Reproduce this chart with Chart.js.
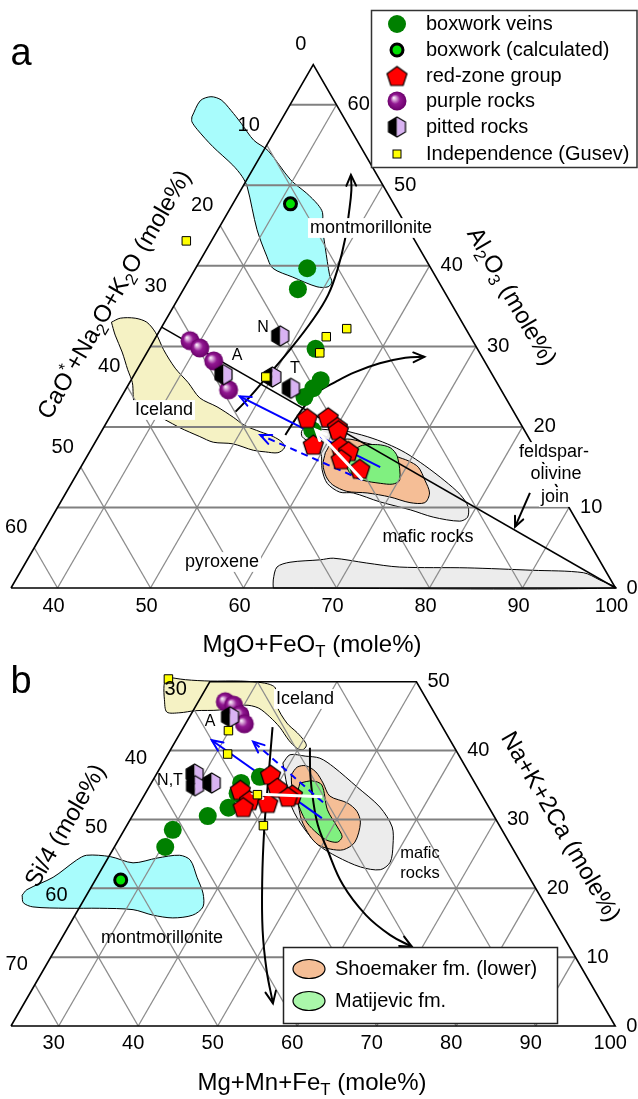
<!DOCTYPE html>
<html lang="en">
<head>
<meta charset="UTF-8" />
<title>Ternary diagrams a and b</title>
<script src="https://cdn.jsdelivr.net/npm/chart.js"></script>
<style>
  html, body { margin: 0; padding: 0; background: #fff; }
  canvas { display: block; }
</style>
</head>
<body>
<canvas id="chartA" width="638" height="660"></canvas>
<canvas id="chartB" width="638" height="439"></canvas>
<script>
// Panel a: points are [MgO+FeOT, Al2O3] in mole%, CaO*+Na2O+K2O is the remainder
const aBoxworkVeins = [[47.0,39.7],[47.3,37.1],[52.9,29.7],[55.4,25.8],[55.1,24.8],[54.7,23.7],[57.6,19.6]];
const aBoxworkCalc = [[41.2,47.7]];
const aRedZone = [[56.3,21.1],[58.5,21.2],[60.1,20.0],[60.4,19.6],[58.6,17.8],[61.6,17.6],[62.8,17.0],[62.5,16.0],[65.1,14.8]];
const aPurple = [[38.9,30.7],[40.4,29.8],[42.7,28.2],[46.1,24.6]];
const aPitted = [[44.6,26.5],[48.3,31.3],[50.0,26.2],[52.7,24.8]];
const aGusev = [[32.3,43.1],[53.3,31.2],[55.0,32.2],[53.6,29.2],[49.3,26.2]];

const aMontmorillonite = [[25.2,58.5],[25.1,60.5],[26.0,61.0],[27.3,60.6],[29.0,59.3],[30.9,57.7],[33.3,55.6],[35.5,54.3],[39.7,50.7],[42.3,49.0],[44.2,47.6],[45.2,46.6],[46.1,44.8],[47.7,42.2],[49.8,38.9],[50.5,38.0],[50.4,37.4],[49.2,37.4],[46.0,38.6],[43.3,39.7],[41.9,41.2],[39.2,44.5],[35.5,49.8],[34.3,51.1],[32.6,52.5],[29.3,54.8],[26.6,56.9],[25.5,57.9]];
const aIceland = [[29.3,33.0],[30.0,33.5],[31.6,33.5],[33.1,33.0],[34.7,31.7],[36.6,29.6],[39.0,27.3],[41.3,25.5],[43.5,23.6],[45.9,22.5],[48.3,21.2],[50.0,20.2],[52.1,19.4],[53.8,18.8],[55.1,18.1],[55.7,17.4],[55.3,16.8],[53.9,16.9],[52.5,17.1],[49.9,17.9],[47.7,18.1],[45.9,18.8],[43.2,19.9],[41.1,20.9],[39.1,21.7],[37.0,22.7],[35.3,25.5],[34.0,27.1],[32.3,29.3],[30.5,31.4]];
const aMafic = [[60.9,19.6],[63.9,18.8],[66.5,17.9],[69.0,16.8],[71.9,15.2],[75.0,13.3],[77.5,11.6],[79.1,10.1],[79.7,8.8],[79.1,8.3],[76.0,8.8],[73.1,9.7],[69.3,10.7],[65.9,11.8],[64.4,11.9],[62.5,13.0],[61.1,14.7],[59.9,16.8],[58.2,18.0],[56.9,18.8],[56.5,19.6],[57.2,20.0],[58.7,19.7]];
const aShoemaker = [[60.4,16.8],[60.5,18.0],[61.9,18.5],[63.8,18.1],[65.9,17.5],[68.4,16.3],[69.8,15.8],[71.3,15.0],[72.8,13.4],[74.1,11.8],[74.2,10.6],[72.6,10.6],[70.1,11.3],[67.4,11.8],[65.1,12.0],[63.2,12.8],[62.0,13.8],[60.9,15.3]];
const aMatijevic = [[63.6,15.0],[63.6,17.5],[65.5,17.8],[67.1,17.4],[68.4,16.3],[70.1,13.4],[69.6,12.9],[68.2,13.0],[66.1,13.4],[64.3,14.3]];
const aPyroxene = [[63.2,0],[62.7,1.0],[62.3,2.6],[63.4,3.2],[66.5,3.5],[67.8,3.7],[71.7,3.1],[75.5,2.6],[82.8,2.5],[90.0,2.2],[95.6,1.9],[97.8,1.0],[100,0]];

const aJoin = [[35,32.4],[100,0]];
const aCurveUp = [[48.2,21.9],[48.8,23.7],[49.4,26.2],[50.2,29.6],[50.8,33.3],[50.9,36.4],[50.3,39.7],[49.3,43.2],[48.0,46.7],[46.9,49.4],[45.9,51.3]];
const aCurveRight = [[55.0,19.0],[55.1,20.9],[55.3,22.7],[55.8,24.3],[57.1,25.6],[58.6,26.8],[60.7,27.9],[63.1,28.6],[65.1,28.7]];
const aBlueSolid = [[67.2,15.0],[47.7,23.8]];
const aBlueDashed = [[66.1,13.4],[52.3,19.0]];
const aWhiteArrow = [[66.1,13.4],[58.0,19.6]];
const aJoinPointer = [[84.9,11.8],[85.4,7.6]];

const aMin = 35;
const aBottomTicks = [40,50,60,70,80,90,100];
const aRightTicks = [0,10,20,30,40,50,60];
const aLeftTicks = [0,10,20,30,40,50,60];
const aGridAl = [10,20,30,40,50,60];
const aGridMg = [40,50,60,70,80,90];
const aGridCa = [10,20,30,40,50,60];

// Panel b: points are [Mg+Mn+FeT, Na+K+2Ca] in mole%, Si/4 is the remainder
const bBoxworkVeins = [[30.4,26.0],[30.1,28.5],[33.5,30.5],[35.5,31.7],[35.6,33.8],[35.3,35.3],[37.2,36.2]];
const bBoxworkCalc = [[27.2,21.2]];
const bRedZone = [[35.7,34.3],[38.4,36.5],[40.2,34.6],[37.6,32.8],[37.3,31.8],[40.1,32.4],[42.6,33.6],[42.2,33.3]];
const bPurple = [[27.4,47.1],[28.7,46.6],[30.2,45.2],[31.4,43.9]];
const bPitted = [[29.1,44.9],[28.8,36.6],[29.7,34.9],[31.6,35.3]];
const bGusev = [[18.6,50.4],[29.9,42.9],[31.5,39.5],[38.2,33.6],[41.2,29.1]];

const bIceland = [[18.2,50.7],[20.8,50.3],[24.0,50.1],[27.8,50.1],[31.0,49.8],[32.7,49.1],[34.2,46.5],[36.7,44.0],[38.7,42.6],[40.2,41.4],[40.8,40.7],[40.6,40.1],[39.7,40.4],[38.2,41.5],[36.1,43.4],[34.1,44.9],[32.0,46.2],[30.1,46.6],[27.3,45.9],[24.3,45.8],[22.5,45.5],[20.8,45.6],[19.6,47.4],[18.5,49.5]];
const bMontmorillonite = [[15.9,19.0],[16.1,19.8],[18.5,21.6],[20.2,24.1],[21.1,24.8],[24.2,24.6],[27.5,23.7],[30.2,24.4],[32.8,24.8],[34.5,24.1],[36.6,21.6],[38.5,19.3],[39.5,17.3],[38.8,16.1],[36.5,15.7],[33.8,16.1],[30.9,16.9],[26.6,17.1],[22.5,17.1],[18.1,17.3],[16.6,17.9]];
const bMafic = [[39.1,38.2],[39.4,39.4],[41.4,39.2],[43.4,38.9],[45.8,37.6],[50.2,34.7],[54.5,31.8],[57.5,28.9],[58.9,26.3],[59.8,23.8],[59.1,22.7],[56.4,23.1],[52.7,24.6],[49.5,26.3],[46.4,28.8],[43.5,31.7],[41.2,35.0]];
const bShoemaker = [[41.0,36.5],[41.2,37.6],[42.2,37.8],[43.9,36.9],[45.6,35.3],[47.4,33.4],[50.1,32.4],[51.9,31.2],[53.2,29.5],[53.9,26.7],[53.0,25.6],[51.3,25.7],[49.5,26.3],[47.8,27.6],[45.6,29.9],[43.6,32.8],[42.0,34.7]];
const bMatijevic = [[42.7,35.3],[44.1,35.6],[45.6,35.0],[48.1,31.4],[50.6,28.9],[51.9,27.5],[51.7,26.7],[50.2,27.0],[48.5,28.0],[46.5,29.5],[44.7,31.4],[43.3,33.3]];

const bCurveLeft = [[35.2,43.4],[38.5,35.7],[41.6,28.5],[45.0,21.2],[48.7,13.9],[52.1,8.1],[55.3,3.3]];
const bCurveRight = [[41.4,40.4],[43.4,36.5],[45.6,32.8],[48.0,29.2],[51.0,25.6],[55.5,20.5],[60.6,16.1],[65.1,13.2],[68.7,11.5]];
const bBlueSolid = [[48.0,30.2],[28.5,41.5]];
const bBlueDashed = [[47.0,32.5],[33.8,41.3]];
const bWhiteArrow = [[46.5,33.3],[37.7,33.7]];

const bMin = 24, bTop = 50;
const bBottomTicks = [30,40,50,60,70,80,90,100];
const bRightTicks = [0,10,20,30,40,50];
const bLeftTicks = [30,40,50,60,70];
const bGridNa = [10,20,30,40];
const bGridMg = [30,40,50,60,70,80,90];
const bGridSi = [10,20,30,40,50,60,70];

const legendA = ['boxwork veins','boxwork (calculated)','red-zone group','purple rocks','pitted rocks','Independence (Gusev)'];
const legendB = ['Shoemaker fm. (lower)','Matijevic fm.'];

// ---------------------------------------------------------------
const FONT = '"Liberation Sans", Arial, Helvetica, sans-serif';
const SQ = Math.sqrt(3) / 2;
const xy = (m, a) => ({ x: m + a / 2, y: a * SQ });
const toXY = list => list.map(p => xy(p[0], p[1]));

const C = {
  cyan: '#a8fcfc', yellow: '#f5f2c4', grey: '#ececec', orange: '#f5be96', green: '#80f080',
  dark: '#008000', calc: '#00e000', lilac: '#d9b3f2', gusev: '#ffff00'
};

function symbolCanvas(w, h, draw) {
  const c = document.createElement('canvas');
  c.width = w; c.height = h;
  const g = c.getContext('2d');
  g.translate(w / 2, h / 2);
  draw(g);
  return c;
}
const pentagon = symbolCanvas(25, 25, g => {
  const r = 10.5;
  g.translate(0, 1);
  g.beginPath();
  for (let i = 0; i < 5; i++) {
    const t = -Math.PI / 2 + i * 2 * Math.PI / 5;
    g.lineTo(r * Math.cos(t), r * Math.sin(t));
  }
  g.closePath();
  g.fillStyle = '#ff0000'; g.fill();
  g.lineWidth = 1.2; g.strokeStyle = '#000'; g.stroke();
});
const hexagon = symbolCanvas(21, 24, g => {
  const hw = 8.5, hh = 10;
  g.beginPath(); g.moveTo(0, -hh); g.lineTo(0, hh); g.lineTo(-hw, hh / 2); g.lineTo(-hw, -hh / 2); g.closePath();
  g.fillStyle = '#000'; g.fill();
  g.beginPath(); g.moveTo(0, -hh); g.lineTo(hw, -hh / 2); g.lineTo(hw, hh / 2); g.lineTo(0, hh); g.closePath();
  g.fillStyle = C.lilac; g.fill();
  g.beginPath(); g.moveTo(0, -hh); g.lineTo(hw, -hh / 2); g.lineTo(hw, hh / 2); g.lineTo(0, hh);
  g.lineTo(-hw, hh / 2); g.lineTo(-hw, -hh / 2); g.closePath();
  g.lineWidth = 1.2; g.strokeStyle = '#000'; g.stroke();
});
const sphere = symbolCanvas(22, 22, g => {
  const r = 9.5;
  const gr = g.createRadialGradient(-r * 0.35, -r * 0.35, 0, 0, 0, r);
  gr.addColorStop(0, '#ffffff');
  gr.addColorStop(0.2, '#d9a6d9');
  gr.addColorStop(0.5, '#921892');
  gr.addColorStop(1, '#6a006a');
  g.beginPath(); g.arc(0, 0, r, 0, Math.PI * 2);
  g.fillStyle = gr; g.fill();
});

function lineDs(list, o) {
  return Object.assign({
    data: toXY(list), showLine: true, pointRadius: 0, borderWidth: 1, borderColor: '#000',
    backgroundColor: 'transparent', fill: false, tension: 0, clip: false
  }, o);
}
function regionDs(list, color, order) {
  const d = toXY(list); d.push(d[0]);
  return { data: d, showLine: true, pointRadius: 0, borderWidth: 1, borderColor: '#000',
    backgroundColor: color, fill: 'shape', tension: 0.3, order, clip: false };
}
function pointDs(list, o) {
  return Object.assign({ data: toXY(list), showLine: false, clip: false }, o);
}
function gridDs(pairs, color, width) {
  return pairs.map(p => lineDs(p, { borderColor: color, borderWidth: width, order: 12 }));
}
function markerSets(s) {
  return [
    pointDs(s.gusev, { pointStyle: 'rect', pointRadius: 6, pointBackgroundColor: C.gusev, pointBorderColor: '#000', pointBorderWidth: 1, order: 1 }),
    pointDs(s.red, { pointStyle: pentagon, pointRadius: 10, order: 3 }),
    pointDs(s.pitted, { pointStyle: hexagon, pointRadius: 9, order: 4 }),
    pointDs(s.purple, { pointStyle: sphere, pointRadius: 9, order: 5 }),
    pointDs(s.calc, { pointStyle: 'circle', pointRadius: 6, pointBackgroundColor: C.calc, pointBorderColor: '#000', pointBorderWidth: 3, order: 6 }),
    pointDs(s.veins, { pointStyle: 'circle', pointRadius: 9, pointBackgroundColor: C.dark, pointBorderWidth: 0, order: 7 })
  ];
}

// ---- panel a datasets
const dsA = [].concat(
  markerSets({ gusev: aGusev, red: aRedZone, pitted: aPitted, purple: aPurple, calc: aBoxworkCalc, veins: aBoxworkVeins }),
  [
    lineDs(aWhiteArrow, { borderColor: '#fff', borderWidth: 3, order: 2, head: 11 }),
    lineDs(aBlueSolid, { borderColor: '#0000ff', borderWidth: 2, order: 8, head: 12 }),
    lineDs(aBlueDashed, { borderColor: '#0000ff', borderWidth: 2, borderDash: [7, 5], order: 8, head: 12 }),
    lineDs(aCurveUp, { borderWidth: 2, tension: 0.4, order: 9, head: 12 }),
    lineDs(aCurveRight, { borderWidth: 2, tension: 0.4, order: 9, head: 12 }),
    lineDs(aJoinPointer, { borderWidth: 2, order: 9, head: 11 }),
    lineDs(aJoin, { borderWidth: 1.5, order: 10 }),
    lineDs([[aMin, 0], [100, 0], [aMin, 100 - aMin], [aMin, 0]], { borderWidth: 1.6, order: 11 })
  ],
  gridDs(aGridAl.map(v => [[aMin, v], [100 - v, v]]), '#808080', 2),
  gridDs(aGridMg.map(v => [[v, 0], [v, 100 - v]]), '#8c8c8c', 1.3),
  gridDs(aGridCa.map(v => [[aMin, 100 - aMin - v], [100 - v, 0]]), '#8c8c8c', 1.3),
  [
    regionDs(aMatijevic, C.green, 13),
    regionDs(aShoemaker, C.orange, 14),
    regionDs(aMafic, C.grey, 15),
    regionDs(aMontmorillonite, C.cyan, 16),
    regionDs(aIceland, C.yellow, 17),
    regionDs(aPyroxene, C.grey, 18)
  ]
);

// ---- panel b datasets
const siLine = s => {
  const n0 = 100 - bMin - s;
  const start = n0 > bTop ? [100 - bTop - s, bTop] : [bMin, n0];
  return [start, [100 - s, 0]];
};
const dsB = [].concat(
  markerSets({ gusev: bGusev, red: bRedZone, pitted: bPitted, purple: bPurple, calc: bBoxworkCalc, veins: bBoxworkVeins }),
  [
    lineDs(bWhiteArrow, { borderColor: '#fff', borderWidth: 3, order: 2, head: 10 }),
    lineDs(bBlueSolid, { borderColor: '#0000ff', borderWidth: 2, order: 8, head: 12 }),
    lineDs(bBlueDashed, { borderColor: '#0000ff', borderWidth: 2, borderDash: [7, 5], order: 8, head: 12 }),
    lineDs(bCurveLeft, { borderWidth: 2, tension: 0.4, order: 9, head: 13 }),
    lineDs(bCurveRight, { borderWidth: 2, tension: 0.4, order: 9, head: 13 }),
    lineDs([[bMin, 0], [100, 0], [100 - bTop, bTop], [bMin, bTop], [bMin, 0]], { borderWidth: 1.6, order: 11 })
  ],
  gridDs(bGridNa.map(v => [[bMin, v], [100 - v, v]]), '#808080', 2),
  gridDs(bGridMg.map(v => [[v, 0], [v, Math.min(100 - v, bTop)]]), '#8c8c8c', 1.3),
  gridDs(bGridSi.map(siLine), '#8c8c8c', 1.3),
  [
    regionDs(bMatijevic, C.green, 13),
    regionDs(bShoemaker, C.orange, 14),
    regionDs(bMafic, C.grey, 15),
    regionDs(bMontmorillonite, C.cyan, 16),
    regionDs(bIceland, C.yellow, 17)
  ]
);

// ---- drawing helpers
function text(ctx, str, x, y, size, o) {
  o = o || {};
  ctx.save();
  ctx.font = size + 'px ' + FONT;
  ctx.textAlign = o.align || 'center';
  ctx.textBaseline = 'middle';
  if (o.bg) {
    const w = ctx.measureText(str).width;
    const x0 = o.align === 'left' ? x : o.align === 'right' ? x - w : x - w / 2;
    ctx.fillStyle = '#fff';
    ctx.fillRect(x0 - 2, y - size * 0.55, w + 4, size * 1.1);
  }
  ctx.fillStyle = '#000';
  ctx.fillText(str, x, y);
  ctx.restore();
}
function rich(ctx, parts, x, y, size, rot) {
  ctx.save();
  ctx.translate(x, y);
  ctx.rotate(rot || 0);
  ctx.textBaseline = 'middle';
  ctx.textAlign = 'left';
  ctx.fillStyle = '#000';
  const f = p => (p[1] ? size * 0.7 : size) + 'px ' + FONT;
  let w = 0;
  parts.forEach(p => { ctx.font = f(p); w += ctx.measureText(p[0]).width; });
  let cx = -w / 2;
  parts.forEach(p => {
    ctx.font = f(p);
    const dy = p[1] === 'sub' ? size * 0.3 : p[1] === 'sup' ? -size * 0.28 : 0;
    ctx.fillText(p[0], cx, dy);
    cx += ctx.measureText(p[0]).width;
  });
  ctx.restore();
}
function pix(chart) {
  const sx = chart.scales.x, sy = chart.scales.y;
  return (m, a) => { const q = xy(m, a); return [sx.getPixelForValue(q.x), sy.getPixelForValue(q.y)]; };
}

const arrowHeads = {
  id: 'arrowHeads',
  afterDatasetDraw(chart, args) {
    const ds = chart.data.datasets[args.index];
    if (!ds.head) return;
    const pts = args.meta.data, n = pts.length;
    const tip = pts[n - 1], prev = pts[n - 2];
    const ang = Math.atan2(tip.y - prev.y, tip.x - prev.x);
    const ctx = chart.ctx, L = ds.head, w = 0.42;
    ctx.save();
    ctx.strokeStyle = ds.borderColor;
    ctx.lineWidth = ds.borderWidth;
    ctx.setLineDash([]);
    ctx.lineCap = 'round';
    ctx.beginPath();
    ctx.moveTo(tip.x - L * Math.cos(ang - w), tip.y - L * Math.sin(ang - w));
    ctx.lineTo(tip.x, tip.y);
    ctx.lineTo(tip.x - L * Math.cos(ang + w), tip.y - L * Math.sin(ang + w));
    ctx.stroke();
    ctx.restore();
  }
};

const decorA = {
  id: 'decorA',
  afterDatasetsDraw(chart) {
    const ctx = chart.ctx, P = pix(chart);
    aBottomTicks.forEach(v => { const [x, y] = P(v, 0); text(ctx, String(v), x - 4, y + 18, 20); });
    aRightTicks.forEach(v => { const [x, y] = P(100 - v, v); text(ctx, String(v), x + 11, y, 20, { align: 'left' }); });
    aLeftTicks.forEach(v => { const [x, y] = P(aMin, 100 - aMin - v); text(ctx, String(v), x - 7, y - 20, 20, { align: 'right' }); });

    rich(ctx, [['MgO+FeO'], ['T', 'sub'], [' (mole%)']], 312, 645, 24, 0);
    rich(ctx, [['CaO'], ['*', 'sup'], ['+Na'], ['2', 'sub'], ['O+K'], ['2', 'sub'], ['O (mole%)']], 115, 295, 24, -Math.PI / 3);
    rich(ctx, [['Al'], ['2', 'sub'], ['O'], ['3', 'sub'], [' (mole%)']], 511, 297, 24, Math.PI / 3);

    text(ctx, 'a', 21, 55, 38);
    text(ctx, 'montmorillonite', 371, 228, 18, { bg: true });
    text(ctx, 'Iceland', 164, 410, 18, { bg: true });
    text(ctx, 'pyroxene', 222, 562, 18, { bg: true });
    text(ctx, 'mafic rocks', 428, 537, 18);
    text(ctx, 'feldspar-', 554, 452, 18, { bg: true });
    text(ctx, 'olivine', 556, 474, 18, { bg: true });
    text(ctx, 'join', 555, 497, 18, { bg: true });
    text(ctx, 'N', 263, 328, 16);
    text(ctx, 'A', 237, 356, 16);
    text(ctx, 'T', 295, 369, 16);

    // legend
    ctx.save();
    ctx.fillStyle = '#fff';
    ctx.fillRect(371, 10, 266, 157);
    ctx.strokeStyle = '#333'; ctx.lineWidth = 1.5;
    ctx.strokeRect(371.5, 10.5, 265.5, 157);
    const rows = [24, 50, 76, 101, 127, 154], sx = 397;
    ctx.fillStyle = C.dark; ctx.beginPath(); ctx.arc(sx, rows[0], 9, 0, Math.PI * 2); ctx.fill();
    ctx.fillStyle = C.calc; ctx.strokeStyle = '#000'; ctx.lineWidth = 3;
    ctx.beginPath(); ctx.arc(sx, rows[1], 6, 0, Math.PI * 2); ctx.fill(); ctx.stroke();
    ctx.drawImage(pentagon, sx - pentagon.width / 2, rows[2] - pentagon.height / 2);
    ctx.drawImage(sphere, sx - sphere.width / 2, rows[3] - sphere.height / 2);
    ctx.drawImage(hexagon, sx - hexagon.width / 2, rows[4] - hexagon.height / 2);
    ctx.fillStyle = C.gusev; ctx.lineWidth = 1;
    ctx.fillRect(sx - 4, rows[5] - 4, 8, 8); ctx.strokeRect(sx - 4, rows[5] - 4, 8, 8);
    ctx.restore();
    legendA.forEach((t, i) => text(ctx, t, 426, rows[i], 20, { align: 'left' }));
  }
};

const decorB = {
  id: 'decorB',
  afterDatasetsDraw(chart) {
    const ctx = chart.ctx, P = pix(chart);
    bBottomTicks.forEach(v => { const [x, y] = P(v, 0); text(ctx, String(v), x - 5, y + 17, 20); });
    bRightTicks.forEach(v => { const [x, y] = P(100 - v, v); text(ctx, String(v), x + 11, y, 20, { align: 'left' }); });
    bLeftTicks.forEach(v => { const [x, y] = P(bMin, 100 - bMin - v); text(ctx, String(v), x - 7, y - 20, 20, { align: 'right' }); });

    rich(ctx, [['Mg+Mn+Fe'], ['T', 'sub'], [' (mole%)']], 312, 423, 24, 0);
    rich(ctx, [['Si/4 (mole%)']], 66, 166, 24, -Math.PI / 3);
    rich(ctx, [['Na+K+2Ca (mole%)']], 560, 167, 24, Math.PI / 3);

    text(ctx, 'b', 21, 23, 38);
    text(ctx, 'Iceland', 305, 39, 18, { bg: true });
    text(ctx, 'montmorillonite', 162, 278, 18);
    text(ctx, 'mafic', 420, 193, 16.5);
    text(ctx, 'rocks', 420, 213, 16.5);
    text(ctx, 'A', 210, 62, 16);
    text(ctx, 'N,T', 170, 121, 16);

    // legend
    ctx.save();
    ctx.fillStyle = '#fff';
    ctx.fillRect(283, 287, 274, 76);
    ctx.strokeStyle = '#222'; ctx.lineWidth = 1.5;
    ctx.strokeRect(283.5, 287.5, 274, 76);
    const rows = [309, 341];
    [C.orange, '#aaf7aa'].forEach((c, i) => {
      ctx.beginPath(); ctx.ellipse(309, rows[i], 16, 9.5, 0, 0, Math.PI * 2);
      ctx.fillStyle = c; ctx.fill(); ctx.lineWidth = 1.2; ctx.strokeStyle = '#000'; ctx.stroke();
    });
    ctx.restore();
    legendB.forEach((t, i) => text(ctx, t, 335, rows[i], 20, { align: 'left' }));
  }
};

function makeChart(id, datasets, xr, yr, decor) {
  return new Chart(document.getElementById(id), {
    type: 'line',
    data: { datasets },
    options: {
      responsive: false,
      animation: false,
      events: [],
      layout: { padding: 0, autoPadding: false },
      scales: {
        x: { type: 'linear', display: false, min: xr[0], max: xr[1], bounds: 'data' },
        y: { type: 'linear', display: false, min: yr[0], max: yr[1], bounds: 'data' }
      },
      plugins: { legend: { display: false }, tooltip: { enabled: false } }
    },
    plugins: [arrowHeads, decor]
  });
}

// view windows (in projected ternary units) that place each triangle on its canvas
makeChart('chartA', dsA, [33.817, 102.419], [-7.742, 63.226], decorA);
makeChart('chartB', dsB, [22.616, 102.868], [-9.182, 46.038], decorB);
</script>
</body>
</html>
